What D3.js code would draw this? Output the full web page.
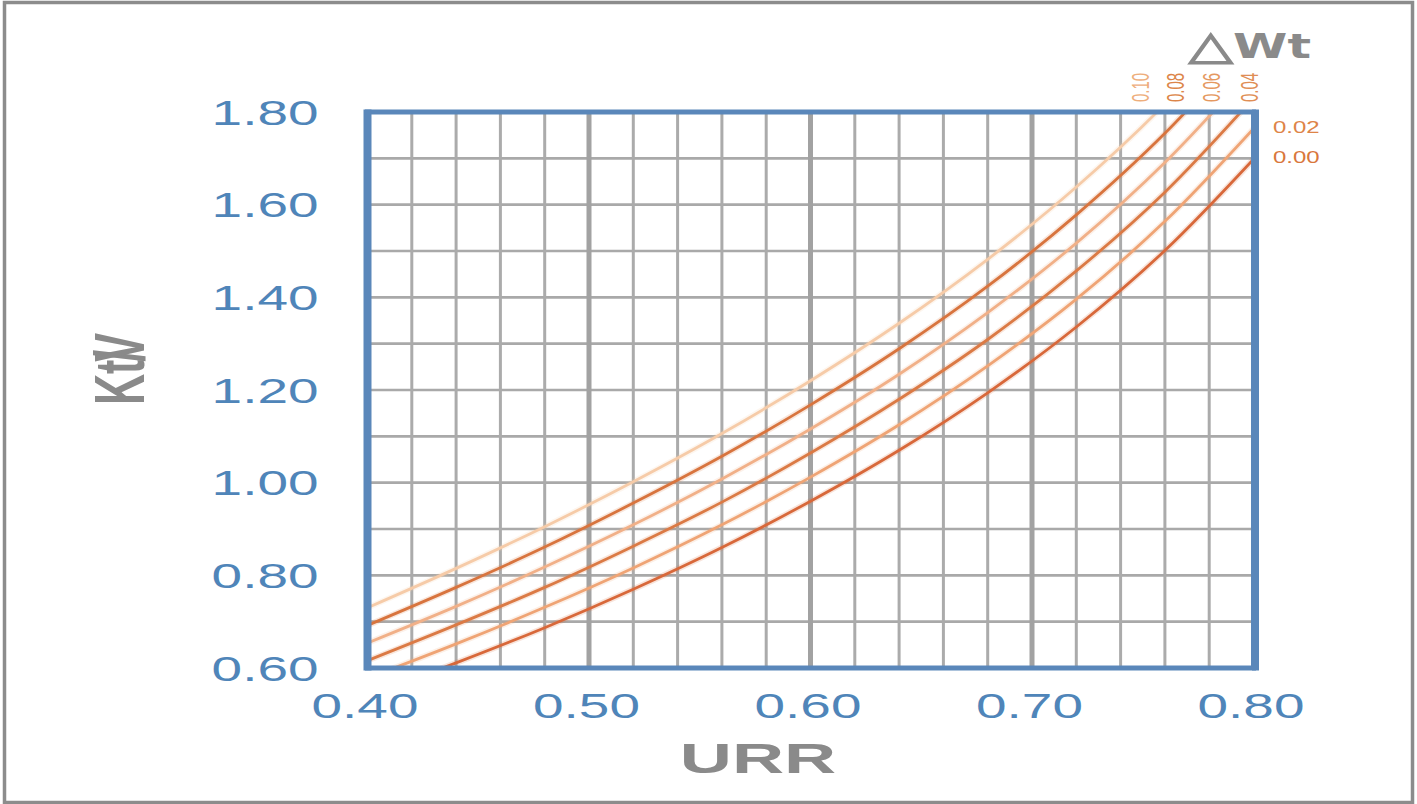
<!DOCTYPE html>
<html>
<head>
<meta charset="utf-8">
<script src="https://cdn.jsdelivr.net/npm/d3@7"></script>
<style>
  html, body { margin: 0; padding: 0; background: #ffffff; }
  svg { display: block; }
  text { font-family: "Liberation Sans", Arial, "DejaVu Sans", sans-serif; }
</style>
</head>
<body>
<svg id="chart" width="1417" height="804"></svg>
<script>
// URR sample points along the horizontal axis
const urr = [0.40, 0.44, 0.48, 0.52, 0.56, 0.60, 0.64, 0.68, 0.72, 0.76, 0.80];

// Kt/V for each weight-loss fraction (ΔWt)
const ktvWt000 = [0.540, 0.611, 0.687, 0.770, 0.860, 0.960, 1.070, 1.194, 1.336, 1.501, 1.698];
const ktvWt002 = [0.578, 0.652, 0.731, 0.816, 0.909, 1.012, 1.125, 1.252, 1.396, 1.564, 1.764];
const ktvWt004 = [0.616, 0.693, 0.774, 0.863, 0.958, 1.064, 1.180, 1.309, 1.457, 1.627, 1.830];
const ktvWt006 = [0.654, 0.733, 0.818, 0.909, 1.008, 1.116, 1.234, 1.367, 1.517, 1.691, 1.896];
const ktvWt008 = [0.692, 0.774, 0.861, 0.956, 1.057, 1.168, 1.289, 1.424, 1.578, 1.754, 1.962];
const ktvWt010 = [0.730, 0.815, 0.905, 1.002, 1.106, 1.220, 1.344, 1.482, 1.638, 1.817, 2.028];

const wtLabels = ["0.00", "0.02", "0.04", "0.06", "0.08", "0.10"];
const seriesValues = [ktvWt000, ktvWt002, ktvWt004, ktvWt006, ktvWt008, ktvWt010];
const lineColors  = ["#d8683a", "#efa475", "#db7a45", "#f1b088", "#d8743e", "#f6cba8"];
const labelColors = ["#d9773c", "#de8447", "#e08e55", "#e59860", "#dc8549", "#eeae7c"];

// Axis ticks
const xTicks = [0.40, 0.50, 0.60, 0.70, 0.80];
const yTicks = [0.60, 0.80, 1.00, 1.20, 1.40, 1.60, 1.80];
const xGridMinor = d3.range(0.42, 0.80, 0.02);
const xGridMajor = [0.50, 0.60, 0.70];
const yGrid = d3.range(0.70, 1.80, 0.10);

// Where the rotated ΔWt labels sit above the frame (URR units)
const topLabelSet = ["0.10", "0.08", "0.06", "0.04"];
const topLabelUrr = [0.7488, 0.7646, 0.7813, 0.7984];
// Right-hand labels sit at these Kt/V levels
const sideLabelSet = ["0.02", "0.00"];
const sideLabelKtv = [1.767, 1.702];

const svg = d3.select("#chart");
const W = 1417, H = 804;
const plot = { left: 367.5, right: 1253.5, top: 112, bottom: 668 };

const x = d3.scaleLinear().domain([0.40, 0.80]).range([plot.left, plot.right]);
const y = d3.scaleLinear().domain([0.60, 1.80]).range([plot.bottom, plot.top]);

// outer picture border
svg.append("rect")
  .attr("x", 4.5).attr("y", 2.5)
  .attr("width", W - 9).attr("height", H - 4)
  .attr("fill", "#ffffff")
  .attr("stroke", "#8c8c8c").attr("stroke-width", 3.5);

// grid
const grid = svg.append("g");
grid.selectAll("line.hy").data(yGrid).join("line")
  .attr("x1", plot.left).attr("x2", plot.right)
  .attr("y1", d => y(d)).attr("y2", d => y(d))
  .attr("stroke", "#a9a9a9").attr("stroke-width", 2.6);
grid.selectAll("line.vx").data(xGridMinor.filter(v => !xGridMajor.some(m => Math.abs(m - v) < 1e-6))).join("line")
  .attr("x1", d => x(d)).attr("x2", d => x(d))
  .attr("y1", plot.top).attr("y2", plot.bottom)
  .attr("stroke", "#ababab").attr("stroke-width", 3);
grid.append("g").selectAll("line").data(xGridMajor).join("line")
  .attr("x1", d => x(d)).attr("x2", d => x(d))
  .attr("y1", plot.top).attr("y2", plot.bottom)
  .attr("stroke", "#a2a2a2").attr("stroke-width", 5);

// curves
svg.append("clipPath").attr("id", "plotClip")
  .append("rect")
  .attr("x", plot.left).attr("y", plot.top)
  .attr("width", plot.right - plot.left).attr("height", plot.bottom - plot.top);

const line = d3.line()
  .x((d, i) => x(urr[i]))
  .y(d => y(d))
  .curve(d3.curveCatmullRom.alpha(0.5));

const curves = svg.append("g").attr("clip-path", "url(#plotClip)");
// soft halo under each curve
curves.selectAll("path.halo").data(seriesValues).join("path")
  .attr("class", "halo")
  .attr("d", d => line(d))
  .attr("fill", "none")
  .attr("stroke", (d, i) => lineColors[i])
  .attr("stroke-opacity", 0.18)
  .attr("stroke-width", 6);
curves.selectAll("path.curve").data(seriesValues).join("path")
  .attr("class", "curve")
  .attr("d", d => line(d))
  .attr("fill", "none")
  .attr("stroke", (d, i) => lineColors[i])
  .attr("stroke-width", 2.8);

// frame
svg.append("rect")
  .attr("x", plot.left).attr("y", plot.top)
  .attr("width", plot.right - plot.left).attr("height", plot.bottom - plot.top)
  .attr("fill", "none")
  .attr("stroke", "#5a87ba").attr("stroke-width", 5);
svg.append("line")
  .attr("x1", plot.left).attr("x2", plot.left)
  .attr("y1", plot.top - 2.5).attr("y2", plot.bottom + 2.5)
  .attr("stroke", "#5a87ba").attr("stroke-width", 8);
svg.append("line")
  .attr("x1", plot.right + 2).attr("x2", plot.right + 2)
  .attr("y1", plot.top - 2.5).attr("y2", plot.bottom + 2.5)
  .attr("stroke", "#5a87ba").attr("stroke-width", 7);

// axes
const tickColor = "#4f85b9";
const yAxis = svg.append("g")
  .attr("transform", `translate(${plot.left},0)`)
  .call(d3.axisLeft(y).tickValues(yTicks).tickFormat(d3.format(".2f")).tickSize(0).tickPadding(0));
yAxis.select(".domain").remove();
yAxis.selectAll("text")
  .attr("x", null).attr("dy", "0.35em")
  .attr("transform", "translate(-49,0) scale(1.57,1)")
  .attr("text-anchor", "end")
  .attr("fill", tickColor)
  .style("font-size", "35px")
  .style("font-family", "'Liberation Sans', Arial, sans-serif");

const xAxis = svg.append("g")
  .attr("transform", `translate(0,${plot.bottom})`)
  .call(d3.axisBottom(x).tickValues(xTicks).tickFormat(d3.format(".2f")).tickSize(0).tickPadding(0));
xAxis.select(".domain").remove();
xAxis.selectAll("text")
  .attr("y", null).attr("dy", null)
  .attr("transform", "translate(-3,50) scale(1.57,1)")
  .attr("text-anchor", "middle")
  .attr("fill", tickColor)
  .style("font-size", "35px")
  .style("font-family", "'Liberation Sans', Arial, sans-serif");

// axis titles
svg.append("text")
  .attr("transform", "translate(758,773) scale(1.72,1)")
  .attr("text-anchor", "middle")
  .attr("fill", "#8a8a8a")
  .style("font-size", "42px").style("font-weight", "bold")
  .text("URR");

const yTitle = svg.append("text")
  .attr("transform", `translate(119,369) scale(1.62,1) rotate(-90)`)
  .attr("text-anchor", "middle")
  .attr("dy", "0.36em")
  .attr("fill", "#8a8a8a")
  .style("font-size", "43px").style("font-weight", "bold");
yTitle.append("tspan").text("Kt");
yTitle.append("tspan").attr("dx", "-2").text("/");
yTitle.append("tspan").attr("dx", "-12").text("V");

// ΔWt legend heading
const head = svg.append("text")
  .attr("transform", "translate(1311,58) scale(1.45,1)")
  .attr("text-anchor", "end")
  .attr("fill", "#8a8a8a")
  .style("font-weight", "bold")
  .style("font-family", "'DejaVu Sans', 'Liberation Sans', sans-serif");
head.append("tspan")
  .style("font-size", "40px")
  .attr("stroke", "#8a8a8a").attr("stroke-width", 1.3)
  .attr("dy", "1")
  .text("△");
head.append("tspan")
  .style("font-size", "34px")
  .attr("dy", "-1")
  .text("Wt");

// rotated ΔWt labels above the frame
svg.append("g").selectAll("text").data(topLabelSet).join("text")
  .attr("transform", (d, i) => `translate(${x(topLabelUrr[i])},102) scale(1.6,1) rotate(-90)`)
  .attr("dy", "0.35em")
  .attr("text-anchor", "start")
  .attr("fill", d => labelColors[wtLabels.indexOf(d)])
  .style("font-size", "15px")
  .text(d => d);

// ΔWt labels right of the frame
svg.append("g").selectAll("text").data(sideLabelSet).join("text")
  .attr("transform", (d, i) => `translate(1273,${y(sideLabelKtv[i])}) scale(1.5,1)`)
  .attr("dy", "0.35em")
  .attr("text-anchor", "start")
  .attr("fill", d => labelColors[wtLabels.indexOf(d)])
  .style("font-size", "16px")
  .text(d => d);
</script>
</body>
</html>
